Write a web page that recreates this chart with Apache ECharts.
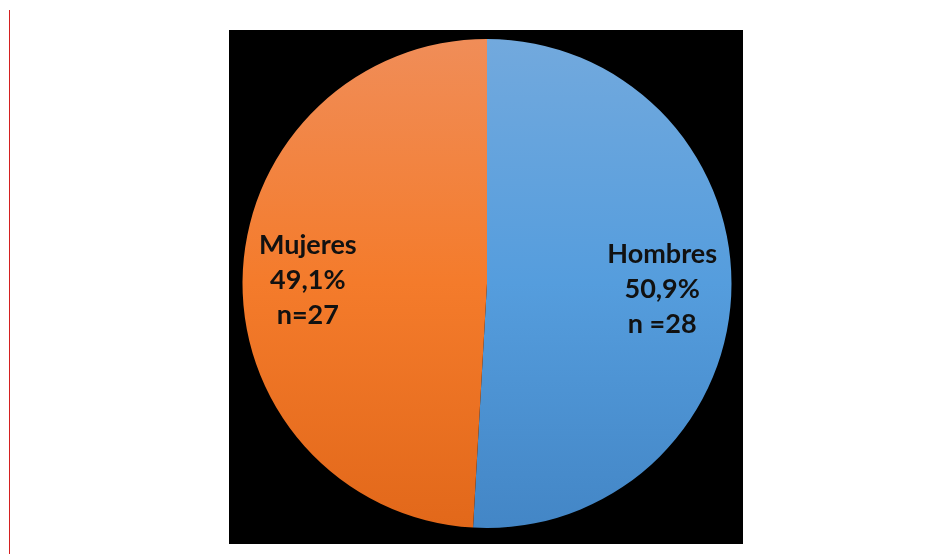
<!DOCTYPE html>
<html>
<head>
<meta charset="utf-8">
<script src="https://cdn.jsdelivr.net/npm/echarts@6/dist/echarts.min.js"></script>
<style>
html,body{margin:0;padding:0;background:#fff;}
#c{width:951px;height:554px;}
</style>
</head>
<body>
<div id="c"></div>
<script>
const categories = ['Hombres', 'Mujeres'];
const counts = [28, 27];
const percentLabels = ['50,9%', '49,1%'];
const nLabels = ['n =28', 'n=27'];

const gradients = [
  ['#72A9DD', '#559DDD', '#4386C6'],
  ['#F08D58', '#F47B2B', '#E2681A']
];
const labelOffsets = [[50, 2], [-54, 0]];

const chart = echarts.init(document.getElementById('c'), null, {renderer: 'canvas'});

const data = categories.map((name, i) => ({
  name: name,
  value: counts[i],
  itemStyle: {
    color: new echarts.graphic.LinearGradient(0, 0, 0, 1, [
      {offset: 0, color: gradients[i][0]},
      {offset: 0.5, color: gradients[i][1]},
      {offset: 1, color: gradients[i][2]}
    ])
  },
  label: {
    offset: labelOffsets[i],
    formatter: name + '\n' + percentLabels[i] + '\n' + nLabels[i]
  }
}));

chart.setOption({
  backgroundColor: '#ffffff',
  animation: false,
  graphic: [
    {
      type: 'line',
      shape: {x1: 9.5, y1: 10, x2: 9.5, y2: 554},
      style: {stroke: '#D42020', lineWidth: 1},
      z: 0
    },
    {
      type: 'rect',
      shape: {x: 229, y: 30, width: 514, height: 514},
      style: {fill: '#000000'},
      z: -10
    }
  ],
  series: [{
    type: 'pie',
    center: [487, 283.5],
    radius: [0, 244.5],
    startAngle: 90,
    clockwise: true,
    silent: true,
    itemStyle: {borderWidth: 0},
    label: {
      show: true,
      position: 'inside',
      color: '#111111',
      fontFamily: 'Lato',
      fontWeight: 'bold',
      fontSize: 27,
      lineHeight: 35,
      align: 'center'
    },
    labelLine: {show: false},
    data: data
  }]
});
</script>
</body>
</html>
